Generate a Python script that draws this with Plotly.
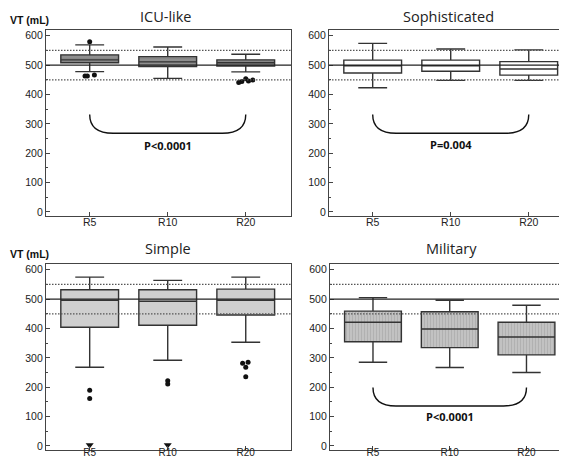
import plotly.graph_objects as go

# categories (breathing rates)
rates = ['R5', 'R10', 'R20']
xpos = [0, 1, 2]

# box statistics, VT in mL
icu_lf = [478, 455, 477]
icu_q1 = [508, 495, 497]
icu_med = [518, 511, 508]
icu_q3 = [535, 529, 518]
icu_uf = [569, 562, 537]

soph_lf = [423, 448, 448]
soph_q1 = [473, 479, 466]
soph_med = [498, 498, 487]
soph_q3 = [517, 517, 512]
soph_uf = [574, 555, 552]

simple_lf = [268, 292, 353]
simple_q1 = [404, 411, 446]
simple_med = [496, 493, 496]
simple_q3 = [532, 532, 534]
simple_uf = [575, 564, 575]

mil_lf = [285, 267, 250]
mil_q1 = [355, 335, 310]
mil_med = [421, 398, 371]
mil_q3 = [459, 457, 421]
mil_uf = [505, 496, 479]

# outliers: (category index, small horizontal jitter, value)
icu_out_cat = [0, 0, 0, 0, 2, 2, 2, 2, 2]
icu_out_jit = [0, -0.06, -0.03, 0.06, -0.09, -0.05, 0, 0.035, 0.09]
icu_out_val = [580, 463, 463, 466, 441, 444, 454, 446, 449]

simple_out_cat = [0, 0, 1, 1, 2, 2, 2, 2]
simple_out_jit = [0, 0, 0, 0, -0.04, 0.03, 0, 0]
simple_out_val = [190, 162, 222, 211, 282, 285, 268, 236]
# values off the bottom of the scale
simple_low_cat = [0, 1]
simple_low_val = [3, 3]

target_vt = 500
tolerance = [450, 550]

LINE = '#333333'
FONT = 'Liberation Sans'

fig = go.Figure()

panels = [
    # name, axis suffix, stats, fill, pattern
    ('ICU-like', '', (icu_lf, icu_q1, icu_med, icu_q3, icu_uf), '#8f8f8f', '-'),
    ('Sophisticated', '2', (soph_lf, soph_q1, soph_med, soph_q3, soph_uf), '#ffffff', ''),
    ('Simple', '3', (simple_lf, simple_q1, simple_med, simple_q3, simple_uf), '#cfcfcf', ''),
    ('Military', '4', (mil_lf, mil_q1, mil_med, mil_q3, mil_uf), '#c2c2c2', '|'),
]

for name, ax, (lf, q1, med, q3, uf), fill, patt in panels:
    xa = 'x' + ax
    ya = 'y' + ax
    # box body with fill / hatching
    fig.add_trace(go.Bar(
        x=xpos, y=[b - a for a, b in zip(q1, q3)], base=q1, width=0.74,
        marker=dict(color=fill, line=dict(width=0),
                    pattern=dict(shape=patt, fgcolor='#7a7a7a' if patt == '-' else '#9c9c9c',
                                 bgcolor=fill, size=3, solidity=0.3)),
        xaxis=xa, yaxis=ya, hoverinfo='skip'))
    # outline, median and whiskers
    fig.add_trace(go.Box(
        x=xpos, q1=q1, median=med, q3=q3, lowerfence=lf, upperfence=uf,
        width=0.74, whiskerwidth=0.5, boxpoints=False,
        fillcolor='rgba(0,0,0,0)', line=dict(color=LINE, width=1.4),
        xaxis=xa, yaxis=ya))

fig.add_trace(go.Scatter(
    x=[c + j for c, j in zip(icu_out_cat, icu_out_jit)], y=icu_out_val,
    mode='markers', marker=dict(color='#111', size=5), xaxis='x', yaxis='y'))
fig.add_trace(go.Scatter(
    x=[c + j for c, j in zip(simple_out_cat, simple_out_jit)], y=simple_out_val,
    mode='markers', marker=dict(color='#111', size=5), xaxis='x3', yaxis='y3'))
fig.add_trace(go.Scatter(
    x=simple_low_cat, y=simple_low_val, mode='markers',
    marker=dict(color='#111', size=7, symbol='triangle-down'), xaxis='x3', yaxis='y3'))

# reference lines at target VT and +/-10%
shapes = []
for ax in ['', '2', '3', '4']:
    shapes.append(dict(type='line', xref='x' + ax + ' domain', yref='y' + ax,
                       x0=0, x1=1, y0=target_vt, y1=target_vt, layer='above',
                       line=dict(color='#222', width=1.4)))
    for t in tolerance:
        shapes.append(dict(type='line', xref='x' + ax + ' domain', yref='y' + ax,
                           x0=0, x1=1, y0=t, y1=t, layer='above',
                           line=dict(color='#555', width=1.2, dash='1.5px,1.5px')))

# brackets R5..R20 with p-values
brackets = [('', 332, 268, 'P<0.0001', 228),
            ('2', 332, 268, 'P=0.004', 230),
            ('4', 199, 136, 'P<0.0001', 99)]
annotations = []
for ax, top, bot, ptxt, py in brackets:
    r = 0.3
    path = (f'M 0,{top} Q 0,{bot} {r},{bot} L {2 - r},{bot} '
            f'Q 2,{bot} 2,{top}')
    shapes.append(dict(type='path', xref='x' + ax, yref='y' + ax, path=path,
                       line=dict(color='#111', width=1.4)))
    annotations.append(dict(x=1, y=py, xref='x' + ax, yref='y' + ax, text=f'<b>{ptxt}</b>',
                            showarrow=False, font=dict(family='Open Sans', size=11, color='#111')))

# panel titles
titles = [('ICU-like', 158 / 567, 1 - 9 / 459), ('Sophisticated', 440 / 567, 1 - 9 / 459),
          ('Simple', 160 / 567, 1 - 242 / 459), ('Military', 443 / 567, 1 - 242 / 459)]
for t, xp, yp in titles:
    annotations.append(dict(x=xp, y=yp, xref='paper', yref='paper', text=t, showarrow=False,
                            font=dict(family='Open Sans', size=14.5, color='#222'),
                            xanchor='center', yanchor='middle'))
for yp in [1 - 12 / 459, 1 - 247 / 459]:
    annotations.append(dict(x=0, y=yp, xref='paper', yref='paper', text='<b>VT (mL)</b>',
                            showarrow=False, xanchor='left', yanchor='middle',
                            font=dict(family=FONT, size=10.5, color='#111')))

xaxis_style = dict(range=[-0.56, 2.58], tickvals=xpos, ticktext=rates, ticks='inside',
                   ticklen=4, tickcolor='#444', showline=True, mirror=True, linecolor='#444',
                   linewidth=1.2, showgrid=False, zeroline=False,
                   tickfont=dict(family=FONT, size=10.5, color='#222'))
yaxis_style = dict(range=[-14, 620], tickvals=[0, 100, 200, 300, 400, 500, 600], ticks='inside',
                   ticklen=4, tickcolor='#444', showline=True, mirror=True, linecolor='#444',
                   linewidth=1.2, showgrid=False, zeroline=False,
                   minor=dict(dtick=50, ticks='inside', ticklen=2, tickcolor='#444'),
                   tickfont=dict(family=FONT, size=10.5, color='#222'))

top_y = [1 - 209 / 459, 1 - 22 / 459]
bot_y = [1 - 444 / 459, 1 - 257 / 459]
left_x = [38 / 567, 283 / 567]
bot_font = dict(family=FONT, size=10, color='#222')

fig.update_layout(
    width=567, height=459, margin=dict(l=0, r=0, t=0, b=0),
    paper_bgcolor='white', plot_bgcolor='white', showlegend=False,
    barmode='overlay', boxmode='overlay',
    xaxis=dict(xaxis_style, domain=left_x, anchor='y', ticklabelstandoff=-4),
    yaxis=dict(yaxis_style, domain=top_y, anchor='x'),
    xaxis2=dict(xaxis_style, domain=[321 / 567, 566 / 567], anchor='y2', ticklabelstandoff=-4),
    yaxis2=dict(yaxis_style, domain=top_y, anchor='x2'),
    xaxis3=dict(xaxis_style, domain=left_x, anchor='y3', ticklabelstandoff=-7,
                tickfont=bot_font),
    yaxis3=dict(yaxis_style, domain=bot_y, anchor='x3'),
    xaxis4=dict(xaxis_style, domain=[322 / 567, 563 / 567], anchor='y4', ticklabelstandoff=-7,
                tickfont=bot_font),
    yaxis4=dict(yaxis_style, domain=bot_y, anchor='x4'),
    shapes=shapes, annotations=annotations,
)

fig.write_html('out.html')
